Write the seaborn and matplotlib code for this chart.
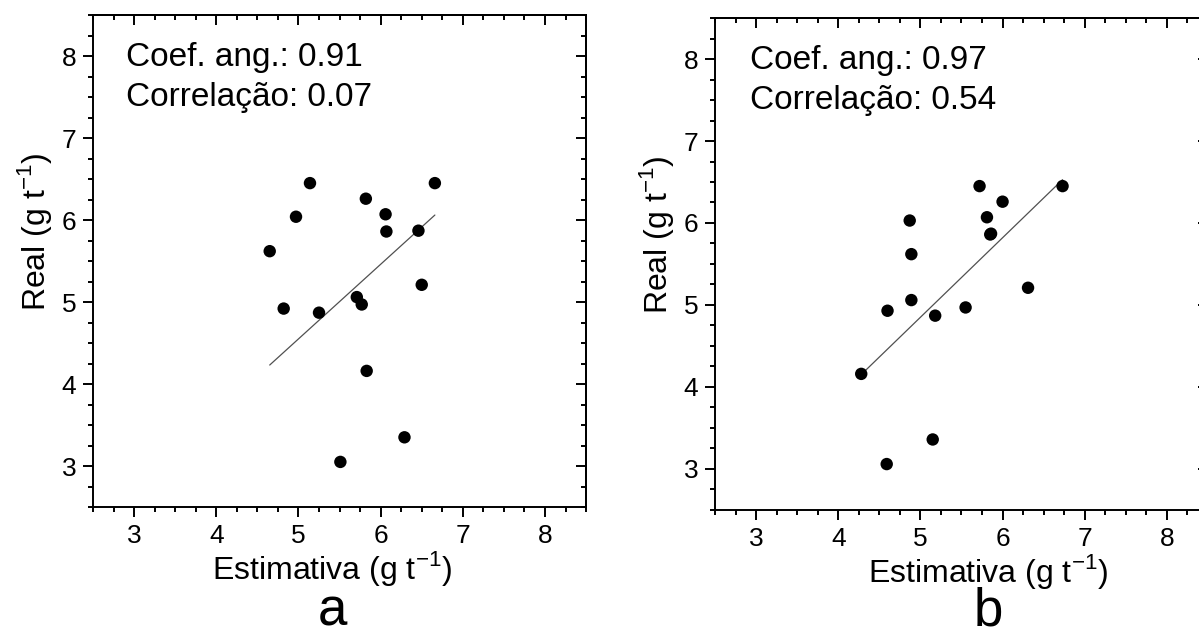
import numpy as np
import pandas as pd
import seaborn as sns
import matplotlib.pyplot as plt
from matplotlib.ticker import MultipleLocator

sns.set_style('ticks')
plt.rcParams['font.family'] = ['Liberation Sans', 'DejaVu Sans']
plt.rcParams.update({'text.color': 'black', 'axes.labelcolor': 'black',
                     'xtick.color': 'black', 'ytick.color': 'black',
                     'axes.edgecolor': 'black'})

# panel a: estimativa vs real
est_a  = [5.14, 6.66, 5.82, 6.06, 4.97, 6.07, 6.46, 4.65, 6.50, 5.71, 5.77, 4.82, 5.25, 5.83, 6.29, 5.51]
real_a = [6.45, 6.45, 6.26, 6.07, 6.04, 5.86, 5.87, 5.62, 5.21, 5.06, 4.97, 4.92, 4.87, 4.16, 3.35, 3.05]

# panel b
est_b  = [5.72, 6.73, 6.00, 5.81, 4.87, 5.86, 5.85, 4.89, 6.31, 4.89, 5.55, 4.60, 5.18, 4.28, 5.15, 4.59]
real_b = [6.45, 6.45, 6.26, 6.07, 6.03, 5.87, 5.86, 5.62, 5.21, 5.06, 4.97, 4.93, 4.87, 4.16, 3.36, 3.06]

slopes  = [0.91, 0.97]
corrs   = [0.07, 0.54]
letters = ['a', 'b']

fig = plt.figure(figsize=(11.99, 6.34), dpi=100)
ax_a = fig.add_axes([0.0776, 0.2003, 0.4112, 0.776])
ax_b = fig.add_axes([0.5963, 0.1956, 0.4112, 0.776])

panels = [(ax_a, est_a, real_a, 0.485, 0.067),
          (ax_b, est_b, real_b, 0.554, 0.071)]

for i, (ax, est, real, xlab_pos, txt_x) in enumerate(panels):
    df = pd.DataFrame({'est': est, 'real': real})
    sns.scatterplot(data=df, x='est', y='real', ax=ax, color='black',
                    s=80, edgecolor='none', zorder=3)
    xs = np.array([min(est), max(est)])
    sns.lineplot(x=xs, y=slopes[i] * xs, ax=ax, color='#505050', lw=0.9)

    ax.set_xlim(2.5, 8.5)
    ax.set_ylim(2.5, 8.5)
    ax.xaxis.set_major_locator(MultipleLocator(1))
    ax.yaxis.set_major_locator(MultipleLocator(1))
    ax.xaxis.set_minor_locator(MultipleLocator(0.25))
    ax.yaxis.set_minor_locator(MultipleLocator(0.25))
    ax.tick_params(which='both', direction='out', width=1.4, labelsize=19, pad=5)
    ax.tick_params(which='major', length=7)
    ax.tick_params(which='minor', length=3.5)
    for sp in ax.spines.values():
        sp.set_linewidth(1.4)
        sp.set_visible(True)

    # inward ticks on top and right
    top = ax.secondary_xaxis('top')
    right = ax.secondary_yaxis('right')
    for sec in (top, right):
        sec.spines[:].set_linewidth(1.4)
    top.xaxis.set_major_locator(MultipleLocator(1))
    top.xaxis.set_minor_locator(MultipleLocator(0.25))
    right.yaxis.set_major_locator(MultipleLocator(1))
    right.yaxis.set_minor_locator(MultipleLocator(0.25))
    top.tick_params(which='both', direction='in', width=1.4, labeltop=False)
    right.tick_params(which='both', direction='in', width=1.4, labelright=False)
    top.tick_params(which='major', length=7)
    top.tick_params(which='minor', length=3.5)
    right.tick_params(which='major', length=7)
    right.tick_params(which='minor', length=3.5)

    ax.set_xlabel('Estimativa (g t$^{\\mathregular{-1}}$)', fontsize=23)
    ax.set_ylabel('Real (g t$^{\\mathregular{-1}}$)', fontsize=23)
    ax.xaxis.set_label_coords(xlab_pos, -0.085)
    ax.yaxis.set_label_coords(-0.08, 0.56)

    ax.text(txt_x, 0.945, 'Coef. ang.: %.2f\nCorrelação: %.2f' % (slopes[i], corrs[i]),
            transform=ax.transAxes, ha='left', va='top', fontsize=24, linespacing=1.38)

    pos = ax.get_position()
    fig.text(pos.x0 + xlab_pos * pos.width, 0.014, letters[i],
             ha='center', va='baseline', fontsize=38)

fig.savefig('out.png', dpi=100, facecolor='white')
